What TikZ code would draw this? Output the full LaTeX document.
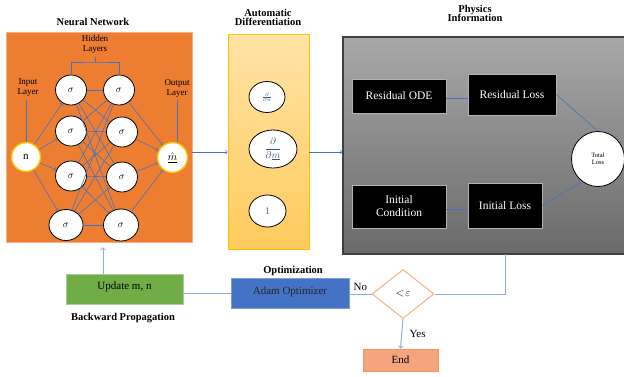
\documentclass[tikz,border=0pt]{standalone}
\usepackage{fix-cm}
\usepackage{amsmath}
\usepackage{fontspec}
\setmainfont{Liberation Serif}
\usetikzlibrary{shapes.geometric}

\definecolor{nnorange}{HTML}{ED7D31}
\definecolor{nnedge}{HTML}{F4B183}
\definecolor{ioyellow}{HTML}{FFC000}
\definecolor{linkblue}{HTML}{4472C4}
\definecolor{fbblue}{HTML}{8FAADC}
\definecolor{adtop}{HTML}{FFE3A6}
\definecolor{adbot}{HTML}{FFCB5C}
\definecolor{pitop}{HTML}{A8A8A8}
\definecolor{pibot}{HTML}{6A6A6A}
\definecolor{updgreen}{HTML}{70AD47}
\definecolor{endfill}{HTML}{F6A47E}
\definecolor{dslate}{HTML}{44546A}

\begin{document}
\begin{tikzpicture}[x=1pt, y=-1pt,
	neuron/.style={ellipse, draw=black, line width=0.8pt, fill=white, inner sep=0pt,
		minimum width=31pt, minimum height=30pt, font=\fontsize{10}{10}\selectfont},
	ioneuron/.style={neuron, draw=ioyellow, line width=1.4pt, minimum width=29pt, minimum height=29pt,
		font=\fontsize{11}{11}\selectfont},
	dnode/.style={ellipse, draw=black, line width=0.8pt, fill=white, inner sep=0pt, text=dslate},
	link/.style={draw=linkblue, line width=0.6pt},
	arr/.style={link, ->},
	fb/.style={draw=fbblue, line width=1pt},
	blackbox/.style={rectangle, fill=black, draw=gray!60, text=white, align=center, inner sep=0pt,
		font=\fontsize{11.5}{13}\selectfont},
	small/.style={align=center, font=\fontsize{9}{10}\selectfont},
	title/.style={align=center, font=\bfseries\fontsize{10.5}{11}\selectfont},
	plain/.style={font=\fontsize{11}{12}\selectfont}]
	\useasboundingbox (0,0) rectangle (624,376);

	% big panels
	\node[rectangle, fill=nnorange, draw=nnedge, line width=0.8pt, minimum width=186pt, minimum height=210pt] (nnbox) at (99,137) {};
	\node[rectangle, top color=adtop, bottom color=adbot, draw=ioyellow, line width=0.8pt, minimum width=81pt, minimum height=215pt] (adbox) at (268.5,141.5) {};
	\node[rectangle, top color=pitop, bottom color=pibot, draw=black!75, line width=1.5pt, minimum width=287pt, minimum height=217pt] (pibox) at (486.5,145.5) {};

	\node[title] (nntitle) at (93,22) {Neural Network};
	\node[title] (adtitle) at (268,17) {Automatic\\[-2pt]Differentiation};
	\node[title] (pititle) at (475,13) {Physics\\[-2pt]Information};

	% neural network
	\node[ioneuron] (n) at (26,157) {n};
	\node[ioneuron, minimum width=30pt, minimum height=30pt] (out) at (172.5,157.5) {$\underline{\hat{m}}$};
	\foreach \i/\x/\y in {1/71/90, 2/71/131, 3/71/176}
		\node[neuron] (h1\i) at (\x,\y) {$\sigma$};
	\node[neuron, minimum width=34pt, minimum height=31pt] (h14) at (66,225) {$\sigma$};
	\foreach \i/\x/\y in {1/119/90, 2/122/132, 3/122/177}
		\node[neuron] (h2\i) at (\x,\y) {$\sigma$};
	\node[neuron, minimum width=35pt, minimum height=32pt] (h24) at (121,225) {$\sigma$};

	\foreach \i in {1,...,4} {
		\draw[arr] (n) -- (h1\i);
		\draw[arr] (h2\i) -- (out);
		\foreach \j in {1,...,4}
			\draw[link] (h1\i) -- (h2\j);
	}

	\node[small] (inlbl) at (28,88) {Input\\Layer};
	\node[small] (outlbl) at (177,88) {Output\\Layer};
	\node[small] (hidlbl) at (95,44) {Hidden\\Layers};
	\draw[link] (n.north) -- (n.north |- inlbl.south);
	\draw[link] (outlbl.south) -- (outlbl.south |- out.north);
	\draw[link, line width=0.9pt] (h11.north) |- (hidlbl.south |- 0,62) -| (h21.north);
	\draw[link, line width=0.9pt] (hidlbl.south) -- (hidlbl.south |- 0,62);

	% automatic differentiation
	\node[dnode, minimum width=36pt, minimum height=31pt, font=\fontsize{5}{5}\selectfont] (d1) at (267,97) {$\frac{\partial}{\partial n}$};
	\node[dnode, minimum width=48pt, minimum height=38pt, font=\fontsize{10}{10}\selectfont] (d2) at (273,149) {$\dfrac{\partial}{\partial \underline{m}}$};
	\node[dnode, minimum width=37pt, minimum height=32pt, font=\fontsize{10}{10}\selectfont] (d3) at (267.5,211) {$1$};

	\coordinate (ay) at (0,152);
	\draw[arr] (nnbox.east |- ay) -- (adbox.west |- ay);
	\draw[arr] (adbox.east |- ay) -- (pibox.west |- ay);

	% physics information
	\node[blackbox, minimum width=94pt, minimum height=34pt] (ode) at (399,96) {Residual ODE};
	\node[blackbox, minimum width=88pt, minimum height=41pt] (rloss) at (512,94.5) {Residual Loss};
	\node[blackbox, minimum width=94pt, minimum height=43pt] (ic) at (399,206.5) {Initial\\Condition};
	\node[blackbox, minimum width=74pt, minimum height=45pt] (iloss) at (505,205.5) {Initial Loss};
	\node[ellipse, draw=black, line width=0.8pt, fill=white, minimum width=53pt, minimum height=55pt,
		align=center, font=\fontsize{6.5}{7.5}\selectfont] (total) at (598,159) {Total\\Loss};

	\draw[link] (ode.east |- 0,98) -- (rloss.west |- 0,98);
	\draw[link] (ic.east |- 0,209) -- (iloss.west |- 0,209);
	\draw[link] (rloss.east) -- (total.north);
	\draw[link] (iloss.east) -- (total.235);

	% optimization loop
	\node[rectangle, fill=updgreen, draw=updgreen!60, line width=0.8pt, minimum width=117pt, minimum height=30pt,
		text depth=6pt, plain] (update) at (124.5,289) {Update m, n};
	\node[rectangle, fill=linkblue, draw=linkblue!70, line width=0.8pt, minimum width=118pt, minimum height=30pt,
		text depth=5pt, text=black!85, plain] (adam) at (290,293) {Adam Optimizer};
	\node[diamond, draw=nnedge, line width=1pt, fill=white, minimum width=62pt, minimum height=49pt,
		inner sep=0pt, aspect=1.27, plain] (dec) at (403,294) {$<\!\varepsilon$};
	\node[rectangle, fill=endfill, draw=nnorange!80, line width=0.8pt, minimum width=75pt, minimum height=22pt,
		plain] (endbox) at (400.5,360) {End};

	\node[title] (optlbl) at (293,271) {Optimization};
	\node[title] (bplbl) at (123,318) {Backward Propagation};

	\coordinate (fbtop) at (505,254);
	\coordinate (upx) at (103,0);
	\draw[fb] (dec.east) -| (fbtop);
	\draw[fb] (dec.west) -- (adam.east |- dec.west) node[midway, above, plain, text=black] (nolbl) {No};
	\draw[fb] (adam.west |- 0,293) -- (update.east |- 0,293);
	\draw[fb, ->, shorten >=5pt] (update.north -| upx) -- (nnbox.south -| upx);
	\draw[fb, ->] (dec.south) -- (endbox.north) node[midway, right=4pt, plain, text=black] (yeslbl) {Yes};
\end{tikzpicture}
\end{document}
